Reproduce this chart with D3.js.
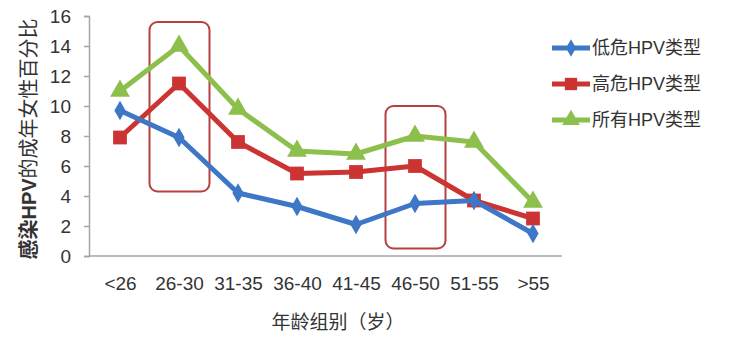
<!DOCTYPE html>
<html><head><meta charset="utf-8">
<script src="https://cdn.jsdelivr.net/npm/d3@7"></script>
<style>
body{margin:0;background:#fff;}
text{font-family:"Liberation Sans","Noto Sans CJK SC",sans-serif;fill:#333;}
</style></head>
<body><svg id="c" width="734" height="342"></svg>
<script>
const categories = ["<26","26-30","31-35","36-40","41-45","46-50","51-55",">55"];
const lowRisk  = [9.7, 7.9, 4.2, 3.3, 2.1, 3.5, 3.7, 1.5];
const highRisk = [7.9, 11.5, 7.6, 5.5, 5.6, 6.0, 3.7, 2.5];
const allTypes = [11.0, 14.0, 9.8, 7.0, 6.8, 8.0, 7.6, 3.6];
const seriesNames = ["低危HPV类型","高危HPV类型","所有HPV类型"];
const yTicks = [0,2,4,6,8,10,12,14,16];
const highlightGroups = [["26-30", 4.3, 15.6], ["46-50", 0.5, 10.0]];

const svg = d3.select("#c");
const x = d3.scalePoint().domain(categories).range([120, 533]);
const y = d3.scaleLinear().domain([0,16]).range([256,16]);

// axes
const yAxis = svg.append("g").attr("transform","translate(89,0)")
  .call(d3.axisLeft(y).tickValues(yTicks).tickSize(5).tickPadding(13));
yAxis.select(".domain").attr("stroke","#a6a6a6").attr("stroke-width",1.5);
yAxis.selectAll(".tick line").attr("stroke","#a6a6a6").attr("stroke-width",1.5);
yAxis.selectAll(".tick text").attr("font-size",19).attr("fill","#333").attr("font-family","Liberation Sans, sans-serif");

const xAxis = svg.append("g").attr("transform","translate(0,256)")
  .call(d3.axisBottom(x).tickSize(0).tickPadding(21));
xAxis.select(".domain").attr("d","M89,0H562").attr("stroke","#a6a6a6").attr("stroke-width",1.5);
xAxis.selectAll(".tick text").attr("font-size",19).attr("fill","#333").attr("font-family","Liberation Sans, sans-serif");

// axis titles
svg.append("text").attr("x",338).attr("y",329).attr("text-anchor","middle")
  .attr("font-size",19).text("年龄组别（岁）");
const yt = svg.append("text").attr("transform","translate(36,139) rotate(-90)")
  .attr("text-anchor","middle").attr("font-size",20);
yt.append("tspan").attr("font-weight","bold").text("感染HPV");
yt.append("tspan").text("的成年女性百分比");

// highlight boxes
const bw = 60;
highlightGroups.forEach(([c, lo, hi]) => {
  svg.append("rect").attr("x", x(c)-bw/2+0.5).attr("y", y(hi)).attr("width", bw)
    .attr("height", y(lo)-y(hi)).attr("rx",8).attr("ry",8)
    .attr("fill","none").attr("stroke","#b8403f").attr("stroke-width",2);
});

const series = [
  {name: seriesNames[0], values: lowRisk, color:"#3d77c6", shape: d3.symbolDiamond, size: 110},
  {name: seriesNames[1], values: highRisk, color:"#cc3333", shape: d3.symbolSquare, size: 190},
  {name: seriesNames[2], values: allTypes, color:"#8dbf4c", shape: d3.symbolTriangle, size: 170}
];
const line = d3.line().x((d,i)=>x(categories[i])).y(d=>y(d));
[series[2], series[1], series[0]].forEach(s => {
  svg.append("path").datum(s.values).attr("d", line).attr("fill","none")
    .attr("stroke", s.color).attr("stroke-width",5).attr("stroke-linejoin","round");
  svg.selectAll(null).data(s.values).enter().append("path")
    .attr("d", d3.symbol().type(s.shape).size(s.size))
    .attr("transform",(d,i)=>`translate(${x(categories[i])},${y(d)})`)
    .attr("fill", s.color);
});

// legend
const legY = [48, 84, 120];
series.forEach((s,i) => {
  const g = svg.append("g").attr("transform",`translate(0,${legY[i]})`);
  g.append("line").attr("x1",552).attr("x2",590).attr("stroke",s.color).attr("stroke-width",5);
  g.append("path").attr("d", d3.symbol().type(s.shape).size(s.size*0.8)).attr("transform","translate(571,0)").attr("fill",s.color);
  g.append("text").attr("x",592).attr("y",6).attr("font-size",18).text(s.name);
});
</script></body></html>
